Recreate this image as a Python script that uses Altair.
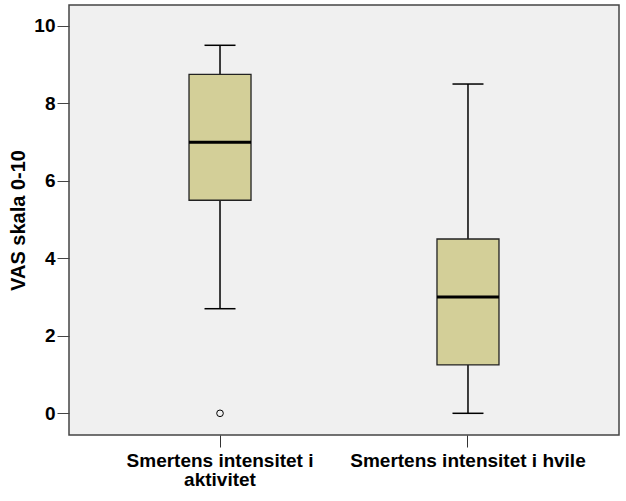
import altair as alt
import pandas as pd

categories = ["Smertens intensitet i aktivitet", "Smertens intensitet i hvile"]
whisker_low = [2.7, 0.0]
q1 = [5.5, 1.25]
median = [7.0, 3.0]
q3 = [8.75, 4.5]
whisker_high = [9.5, 8.5]
outlier_cat = ["Smertens intensitet i aktivitet"]
outlier_val = [0.0]

df = pd.DataFrame({
    "cat": categories,
    "lo": whisker_low,
    "q1": q1,
    "med": median,
    "q3": q3,
    "hi": whisker_high,
})
out = pd.DataFrame({"cat": outlier_cat, "v": outlier_val})

FONT = "Liberation Sans"

xenc = alt.X(
    "cat:N",
    sort=categories,
    title=None,
    scale=alt.Scale(paddingInner=0, paddingOuter=0.109),
    axis=alt.Axis(
        labelAngle=0,
        labelFont=FONT,
        labelFontSize=19,
        labelFontWeight="bold",
        labelColor="black",
        labelPadding=4,
        labelLimit=400,
        labelLineHeight=19,
        labelExpr="datum.label == 'Smertens intensitet i aktivitet' ? ['Smertens intensitet i', 'aktivitet'] : datum.label",
        tickSize=12,
        tickColor="#333333",
        domain=False,
        grid=False,
    ),
)

yscale = alt.Scale(domain=[-0.56, 10.54], nice=False, zero=False)
yaxis = alt.Axis(
    values=[0, 2, 4, 6, 8, 10],
    title="VAS skala 0-10",
    titleFont=FONT,
    titleFontSize=20,
    titleFontWeight="bold",
    titleColor="black",
    titlePadding=5,
    labelFont=FONT,
    labelFontSize=19,
    labelFontWeight="bold",
    labelColor="black",
    labelPadding=2,
    tickSize=12,
    tickColor="#444444",
    domain=False,
    grid=False,
)

base = alt.Chart(df)

whisker = base.mark_rule(color="black", strokeWidth=1.5).encode(
    x=xenc, y=alt.Y("lo:Q", scale=yscale, axis=yaxis), y2="hi:Q"
)
box = base.mark_bar(size=62, color="#D3CF98", stroke="#222222", strokeWidth=1.3, opacity=1).encode(
    x=xenc, y=alt.Y("q1:Q", scale=yscale), y2="q3:Q"
)
med = base.mark_tick(size=62, thickness=3, color="black", opacity=1).encode(
    x=xenc, y=alt.Y("med:Q", scale=yscale)
)
cap_lo = base.mark_tick(size=31, thickness=1.5, color="black", opacity=1).encode(
    x=xenc, y=alt.Y("lo:Q", scale=yscale)
)
cap_hi = base.mark_tick(size=31, thickness=1.5, color="black", opacity=1).encode(
    x=xenc, y=alt.Y("hi:Q", scale=yscale)
)
pts = alt.Chart(out).mark_point(shape="circle", size=44, color="black", strokeWidth=1, filled=False, opacity=1).encode(
    x=xenc, y=alt.Y("v:Q", scale=yscale)
)

chart = (
    alt.layer(whisker, box, med, cap_lo, cap_hi, pts)
    .properties(
        width=550,
        height=430,
        autosize=alt.AutoSizeParams(type="none"),
        padding={"left": 69, "top": 5, "right": 7, "bottom": 66},
        background="white",
    )
    .configure_view(fill="#F0F0F0", stroke="#444444", strokeWidth=1.5)
)

chart.save("out.html", embed_options={"renderer": "svg", "actions": False})
